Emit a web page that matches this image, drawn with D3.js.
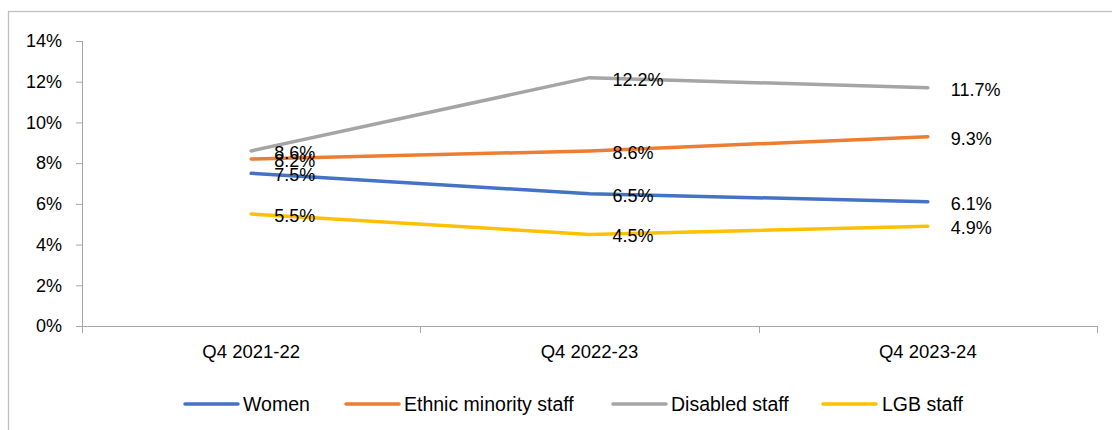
<!DOCTYPE html>
<html>
<head>
<meta charset="utf-8">
<script src="https://cdn.jsdelivr.net/npm/d3@7"></script>
<style>
  html, body { margin: 0; padding: 0; background: #fff; }
  svg { display: block; font-family: "Liberation Sans", Arial, sans-serif; }
</style>
</head>
<body>
<svg id="chart" width="1112" height="430"></svg>
<script>
// Workforce representation by quarter (percent of staff)
const categories = ["Q4 2021-22", "Q4 2022-23", "Q4 2023-24"];
const seriesNames = ["Women", "Ethnic minority staff", "Disabled staff", "LGB staff"];
const women = [7.5, 6.5, 6.1];
const ethnicMinority = [8.2, 8.6, 9.3];
const disabled = [8.6, 12.2, 11.7];
const lgb = [5.5, 4.5, 4.9];
const yTicks = [0, 2, 4, 6, 8, 10, 12, 14];

const colors = ["#4472C4", "#ED7D31", "#A5A5A5", "#FFC000"];
const series = [women, ethnicMinority, disabled, lgb].map((values, i) => ({
  name: seriesNames[i], values, color: colors[i]
}));

const svg = d3.select("#chart");
const plot = { left: 82, right: 1097, top: 41, bottom: 326 };

// Outer chart frame (runs off the right and bottom edges)
svg.append("rect")
  .attr("x", 8.5).attr("y", 11.5)
  .attr("width", 1120).attr("height", 440)
  .attr("fill", "none").attr("stroke", "#BFBFBF").attr("stroke-width", 1.3);

const x = d3.scaleBand().domain(categories).range([plot.left, plot.right]);
const y = d3.scaleLinear().domain([0, 14]).range([plot.bottom, plot.top]);
const cx = c => x(c) + x.bandwidth() / 2;

// Y axis
const yAxis = svg.append("g")
  .attr("transform", `translate(${plot.left},0)`)
  .call(d3.axisLeft(y).tickValues(yTicks).tickSize(6).tickPadding(14)
    .tickFormat(d => d + "%"));
yAxis.select(".domain").attr("stroke", "#A6A6A6").attr("d", `M0.5,${plot.top}V${plot.bottom + 7}`);
yAxis.selectAll(".tick line").attr("stroke", "#A6A6A6");
yAxis.selectAll(".tick text").attr("font-size", 18).attr("fill", "#000")
  .attr("font-family", "Liberation Sans, Arial, sans-serif");

// X axis: category labels centred in bands, tick marks on band boundaries
const xAxis = svg.append("g")
  .attr("transform", `translate(0,${plot.bottom})`)
  .call(d3.axisBottom(x).tickSize(0).tickPadding(19));
xAxis.select(".domain").attr("stroke", "#A6A6A6");
xAxis.selectAll(".tick text").attr("font-size", 18.5).attr("fill", "#000")
  .attr("font-family", "Liberation Sans, Arial, sans-serif");
const boundaries = categories.map(c => x(c)).concat([x.range()[1]]);
xAxis.selectAll(".boundary").data(boundaries).enter().append("line")
  .attr("x1", d => Math.round(d) + 0.5).attr("x2", d => Math.round(d) + 0.5)
  .attr("y1", 0).attr("y2", 7)
  .attr("stroke", "#A6A6A6");

// Lines
const line = d3.line()
  .x((d, i) => cx(categories[i]))
  .y(d => y(d));

svg.append("g").selectAll("path").data(series).enter().append("path")
  .attr("d", d => line(d.values))
  .attr("fill", "none")
  .attr("stroke", d => d.color)
  .attr("stroke-width", 3.5)
  .attr("stroke-linecap", "round")
  .attr("stroke-linejoin", "round");

// Data labels to the right of each point
const labels = svg.append("g");
series.forEach(s => {
  s.values.forEach((v, i) => {
    labels.append("text")
      .attr("x", cx(categories[i]) + 23)
      .attr("y", y(v) + 2)
      .attr("dominant-baseline", "central")
      .attr("font-size", 18)
      .attr("fill", "#000")
      .text(v.toFixed(1) + "%");
  });
});

// Legend
const legendItems = [
  { x0: 185, tx: 243 },
  { x0: 346, tx: 404 },
  { x0: 613, tx: 671 },
  { x0: 823, tx: 882 }
];
const legendY = 404;
const legend = svg.append("g");
series.forEach((s, i) => {
  const it = legendItems[i];
  legend.append("line")
    .attr("x1", it.x0).attr("x2", it.x0 + 53)
    .attr("y1", legendY).attr("y2", legendY)
    .attr("stroke", s.color).attr("stroke-width", 3.5)
    .attr("stroke-linecap", "round");
  legend.append("text")
    .attr("x", it.tx).attr("y", legendY)
    .attr("dominant-baseline", "central")
    .attr("font-size", 19.5).attr("fill", "#000")
    .text(s.name);
});
</script>
</body>
</html>
